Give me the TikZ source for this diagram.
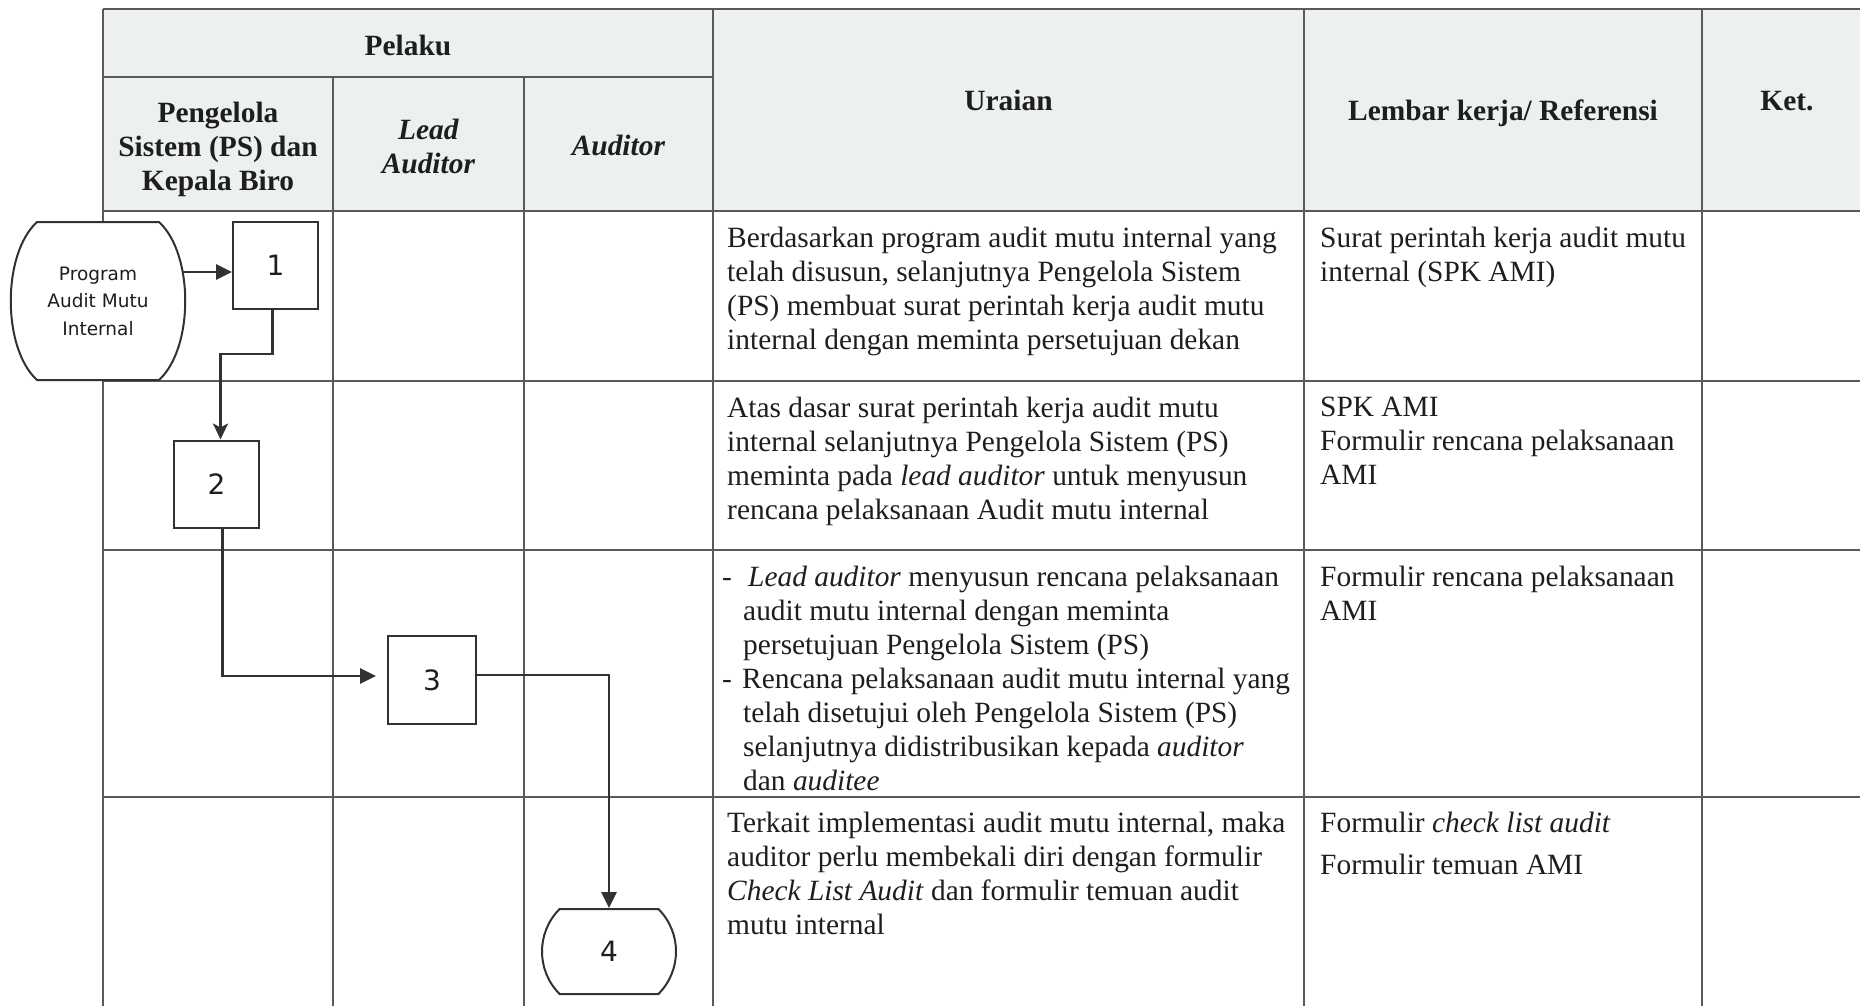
\documentclass[tikz,border=0pt]{standalone}
\usepackage{fontspec}
\setmainfont{Liberation Serif}
\newfontfamily\flowfont{DejaVu Sans}
\usetikzlibrary{arrows.meta,positioning,shapes.misc,calc}

\definecolor{hdrfill}{RGB}{237,240,240}
\definecolor{gridline}{RGB}{90,90,90}
\definecolor{inkline}{RGB}{50,50,50}
\definecolor{ink}{RGB}{30,30,30}

\begin{document}
\begin{tikzpicture}[
  x=1pt,y=-1pt,
  >={Triangle[length=16pt,width=15pt]},
  grid/.style={draw=gridline,line width=1.5pt},
  hdr/.style={font=\bfseries\fontsize{29.4}{34}\selectfont,text=ink,inner sep=0pt,align=center},
  body/.style={anchor=north west,inner sep=0pt,align=left,text=ink,
               font=\fontsize{29.4}{34}\selectfont,execute at begin node=\strut},
  procbox/.style={draw=inkline,line width=2pt,fill=white,minimum width=85pt,
                  minimum height=87pt,inner sep=0pt,text=ink,
                  font=\flowfont\fontsize{28}{32}\selectfont},
  termbox/.style={procbox,rounded rectangle,rounded rectangle arc length=90,align=center},
  termline/.style={draw=inkline,line width=2pt,fill=white},
  flow/.style={->,draw=inkline,line width=2.8pt},
]
\useasboundingbox (0,0) rectangle (1860,1005);
\clip (0,0) rectangle (1860,1005);

% ---- table frame ---------------------------------------------------------
\fill[hdrfill] (103,9) rectangle (1872,211);
\draw[grid] (103,9) -- (1872,9);
\draw[grid] (103,77) -- (713,77);
\draw[grid] (103,211) -- (1872,211);
\draw[grid] (103,381) -- (1872,381);
\draw[grid] (103,550) -- (1872,550);
\draw[grid] (103,797) -- (1872,797);
\draw[grid] (103,9) -- (103,1010);
\draw[grid] (333,77) -- (333,1010);
\draw[grid] (524,77) -- (524,1010);
\draw[grid] (713,9) -- (713,1010);
\draw[grid] (1304,9) -- (1304,1010);
\draw[grid] (1702,9) -- (1702,1010);

% ---- header --------------------------------------------------------------
\node[hdr,anchor=base] (pelaku) at (408,55) {Pelaku};
\node[hdr,anchor=north] (hps) at (218,98) {\strut Pengelola\\Sistem (PS) dan\\Kepala Biro};
\node[hdr,anchor=north] (hlead) at (428.5,115) {\strut\textit{Lead}\\\textit{Auditor}};
\node[hdr,anchor=base] (haud) at (618.5,155) {\textit{Auditor}};
\node[hdr,anchor=base] (hurai) at (1008.5,110) {Uraian};
\node[hdr,anchor=base] (hlemb) at (1503,120) {Lembar kerja/ Referensi};
\node[hdr,anchor=base] (hket) at (1787,110) {Ket.};

% ---- flow (Pelaku columns) -----------------------------------------------
% start terminal: straight top/bottom, bulging sides
\coordinate (progc) at (98,301);
\draw[termline] ($(progc)+(-61,-79)$) -- ($(progc)+(61,-79)$)
  .. controls ($(progc)+(96,-47)$) and ($(progc)+(96,47)$) .. ($(progc)+(61,79)$)
  -- ($(progc)+(-61,79)$)
  .. controls ($(progc)+(-96,47)$) and ($(progc)+(-96,-47)$) .. cycle;
\node[minimum width=170pt,minimum height=158pt,inner sep=0pt,align=center,text=ink,
      font=\flowfont\fontsize{18.5}{27.5}\selectfont] (prog) at (progc)
   {Program\\Audit Mutu\\Internal};
\node[procbox] (b1) at (275.5,265.5) {1};
\node[procbox] (b2) at (216.5,484) {2};
\node[procbox,minimum width=88pt,minimum height=88pt] (b3) at (432,680) {3};
\node[termbox,minimum width=134pt,minimum height=85pt] (b4) at (609,951.5) {4};

\coordinate (in1) at ([yshift=-6.5pt]b1.west);
\draw[flow] (prog.east |- in1) -- (in1);
\draw[flow,>={Stealth[length=16pt,width=15pt,inset=4pt]}]
  ([xshift=-3pt]b1.south) -- ++(0,44) -| ([xshift=4pt]b2.north);
\draw[flow,shorten >=11pt] ([xshift=6pt]b2.south) |- ([yshift=4pt]b3.west);
\draw[flow] ([yshift=5pt]b3.east) -| (b4.north);

% ---- Uraian --------------------------------------------------------------
\node[body] (u1) at (727,227) {Berdasarkan program audit mutu internal yang\\
  telah disusun, selanjutnya Pengelola Sistem\\
  (PS) membuat surat perintah kerja audit mutu\\
  internal dengan meminta persetujuan dekan};
\node[body] (u2) at (727,397) {Atas dasar surat perintah kerja audit mutu\\
  internal selanjutnya Pengelola Sistem (PS)\\
  meminta pada \textit{lead auditor} untuk menyusun\\
  rencana pelaksanaan Audit mutu internal};
\node[body] (u3) at (722,566) {\makebox[21pt][l]{-}\hspace{5pt}\textit{Lead auditor} menyusun rencana pelaksanaan\\
  \hspace*{21pt}audit mutu internal dengan meminta\\
  \hspace*{21pt}persetujuan Pengelola Sistem (PS)\\
  \makebox[20pt][l]{-}Rencana pelaksanaan audit mutu internal yang\\
  \hspace*{21pt}telah disetujui oleh Pengelola Sistem (PS)\\
  \hspace*{21pt}selanjutnya didistribusikan kepada \textit{auditor}\\
  \hspace*{21pt}dan \textit{auditee}};
\node[body] (u4) at (727,812) {Terkait implementasi audit mutu internal, maka\\
  auditor perlu membekali diri dengan formulir\\
  \textit{Check List Audit} dan formulir temuan audit\\
  mutu internal};

% ---- Lembar kerja / Referensi --------------------------------------------
\node[body] (r1) at (1320,227) {Surat perintah kerja audit mutu\\internal (SPK AMI)};
\node[body] (r2) at (1320,397) {SPK AMI\\Formulir rencana pelaksanaan\\AMI};
\node[body] (r3) at (1320,566) {Formulir rencana pelaksanaan\\AMI};
\node[body] (r4) at (1320,812) {Formulir \textit{check list audit}\\[8pt]Formulir temuan AMI};

\end{tikzpicture}
\end{document}
